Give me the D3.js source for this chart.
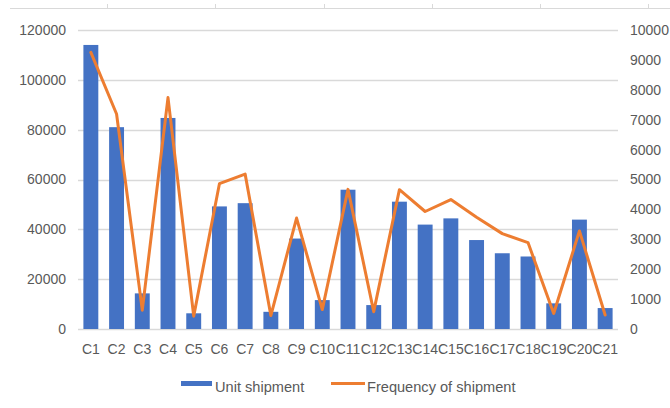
<!DOCTYPE html>
<html>
<head>
<meta charset="utf-8">
<script src="https://cdn.jsdelivr.net/npm/d3@7"></script>
<style>
  html, body { margin: 0; padding: 0; background: #fff; }
  svg { display: block; font-family: "Liberation Sans", Arial, sans-serif; }
</style>
</head>
<body>
<svg id="chart" width="670" height="408"></svg>
<script>
// Categories and the two series
const categories = ["C1","C2","C3","C4","C5","C6","C7","C8","C9","C10","C11","C12","C13","C14","C15","C16","C17","C18","C19","C20","C21"];
const unitShipment = [114000, 81000, 14300, 84700, 6300, 49200, 50500, 6900, 36300, 11600, 55900, 9600, 51100, 41900, 44400, 35700, 30400, 29100, 10300, 43900, 8400];
const shipmentFrequency = [9250, 7190, 630, 7740, 430, 4860, 5180, 450, 3710, 650, 4670, 580, 4660, 3930, 4330, 3740, 3190, 2890, 520, 3280, 470];
const leftTicks = [0, 20000, 40000, 60000, 80000, 100000, 120000];
const rightTicks = [0, 1000, 2000, 3000, 4000, 5000, 6000, 7000, 8000, 9000, 10000];
const seriesNames = ["Unit shipment", "Frequency of shipment"];

const svg = d3.select("#chart");
const W = 670;
const plot = { left: 78, right: 618, top: 30, bottom: 329 };
const textColor = "#595959";
const gridColor = "#d9d9d9";
const blue = "#4472C4";
const orange = "#ED7D31";

// Faint rule along the top edge with tick marks
const topTicks = d3.scaleLinear().domain([0, 6]).range([-1, 648]);
svg.append("line").attr("x1", 10).attr("x2", W).attr("y1", 8.5).attr("y2", 8.5)
  .attr("stroke", gridColor).attr("stroke-width", 1);
svg.selectAll("line.topTick").data(d3.range(1, 7)).join("line")
  .attr("class", "topTick")
  .attr("x1", d => Math.round(topTicks(d)) + 0.5).attr("x2", d => Math.round(topTicks(d)) + 0.5)
  .attr("y1", 4).attr("y2", 8.5)
  .attr("stroke", gridColor).attr("stroke-width", 1);

// Scales
const x = d3.scaleBand().domain(categories).range([plot.left, plot.right]).paddingInner(0.42).paddingOuter(0.21);
const yL = d3.scaleLinear().domain([0, 120000]).range([plot.bottom, plot.top]);
const yR = d3.scaleLinear().domain([0, 10000]).range([plot.bottom, plot.top]);

// Horizontal gridlines (left axis)
svg.append("g").selectAll("line").data(leftTicks).join("line")
  .attr("x1", plot.left).attr("x2", plot.right)
  .attr("y1", d => Math.round(yL(d)) + 0.5).attr("y2", d => Math.round(yL(d)) + 0.5)
  .attr("stroke", gridColor).attr("stroke-width", 1.3);

// Left axis
const leftAxis = svg.append("g").attr("transform", `translate(${plot.left - 12},0)`)
  .call(d3.axisLeft(yL).tickValues(leftTicks).tickSize(0).tickPadding(0).tickFormat(d3.format("d")));
leftAxis.select(".domain").remove();
leftAxis.selectAll("text").attr("fill", textColor).attr("font-size", 14)
  .attr("font-family", "'Liberation Sans', Arial, sans-serif");

// Right axis
const rightAxis = svg.append("g").attr("transform", `translate(${plot.right + 12},0)`)
  .call(d3.axisRight(yR).tickValues(rightTicks).tickSize(0).tickPadding(0).tickFormat(d3.format("d")));
rightAxis.select(".domain").remove();
rightAxis.selectAll("text").attr("fill", textColor).attr("font-size", 14)
  .attr("font-family", "'Liberation Sans', Arial, sans-serif");

// Category axis
const bottomAxis = svg.append("g").attr("transform", `translate(0,${plot.bottom})`)
  .call(d3.axisBottom(x).tickSize(0).tickPadding(15));
bottomAxis.select(".domain").remove();
bottomAxis.selectAll("text").attr("fill", textColor).attr("font-size", 14)
  .attr("font-family", "'Liberation Sans', Arial, sans-serif");

// Bars: unit shipment
svg.append("g").selectAll("rect").data(categories).join("rect")
  .attr("x", d => x(d))
  .attr("width", x.bandwidth())
  .attr("y", (d, i) => yL(unitShipment[i]))
  .attr("height", (d, i) => yL(0) - yL(unitShipment[i]))
  .attr("fill", blue);

// Line: frequency of shipment
const line = d3.line()
  .x((d, i) => x(categories[i]) + x.bandwidth() / 2)
  .y(d => yR(d));
svg.append("path").datum(shipmentFrequency)
  .attr("d", line)
  .attr("fill", "none")
  .attr("stroke", orange)
  .attr("stroke-width", 3)
  .attr("stroke-linejoin", "round")
  .attr("stroke-linecap", "round");

// Legend
const legend = svg.append("g");
legend.append("rect").attr("x", 181).attr("y", 381).attr("width", 31).attr("height", 5).attr("fill", blue);
legend.append("text").attr("x", 215).attr("y", 392).text(seriesNames[0])
  .attr("fill", textColor).attr("font-size", 14.6);
legend.append("line").attr("x1", 331).attr("x2", 365).attr("y1", 383.5).attr("y2", 383.5)
  .attr("stroke", orange).attr("stroke-width", 3);
legend.append("text").attr("x", 367).attr("y", 392).text(seriesNames[1])
  .attr("fill", textColor).attr("font-size", 14.6);
</script>
</body>
</html>
